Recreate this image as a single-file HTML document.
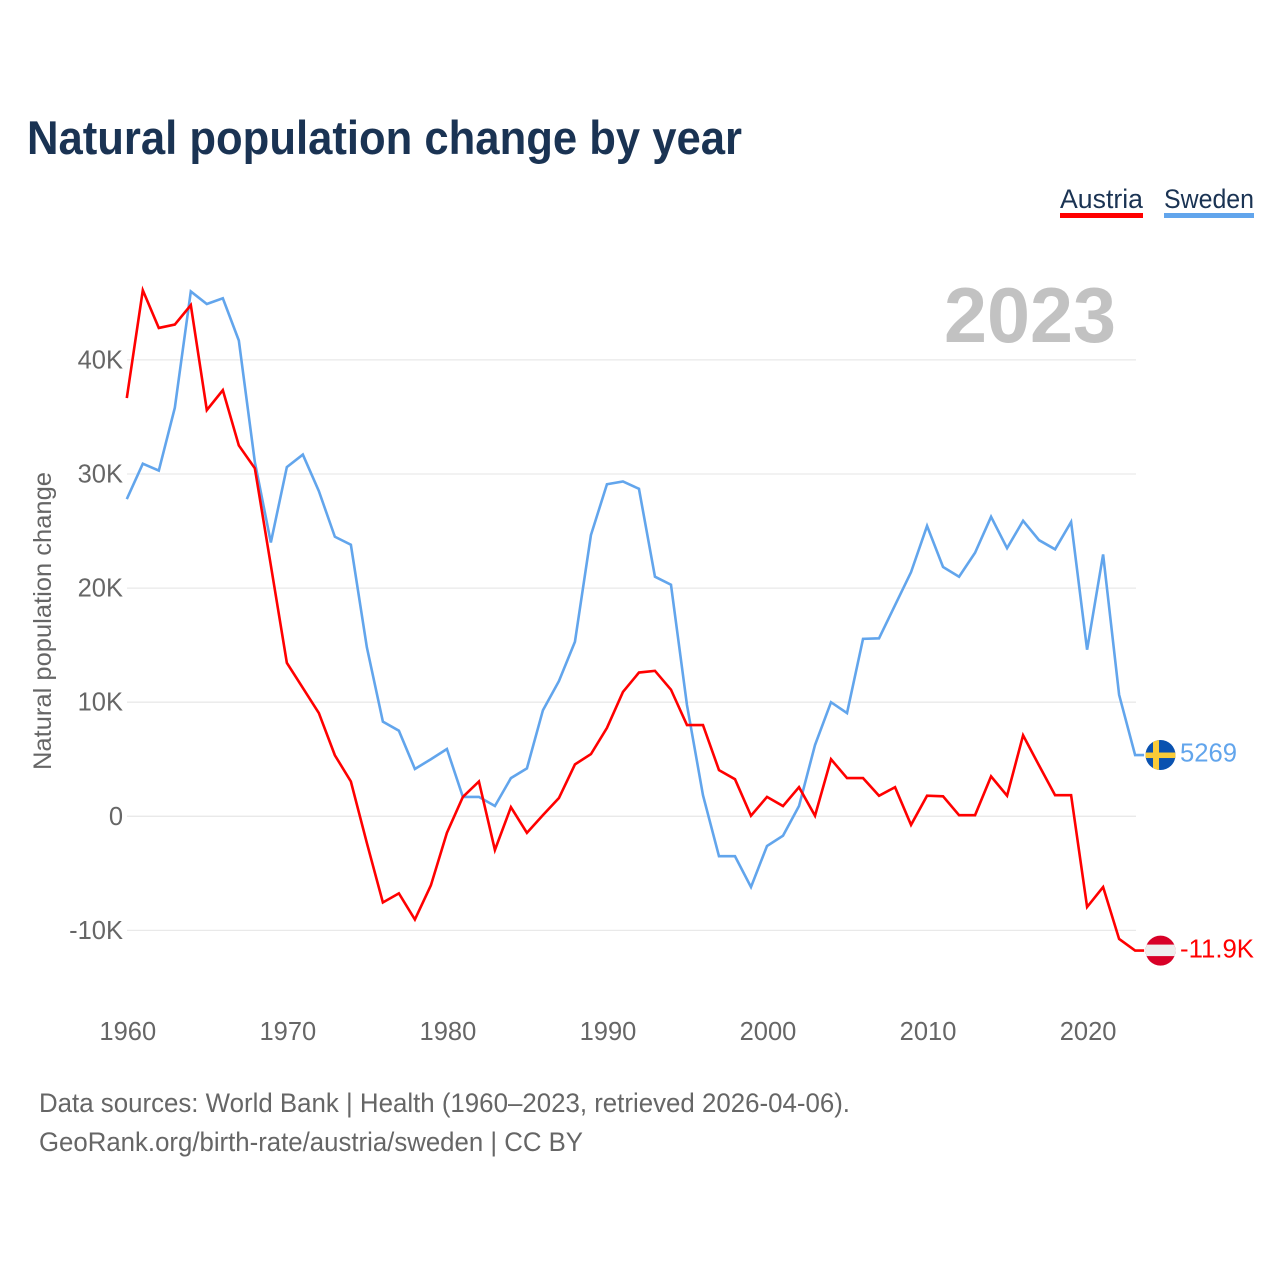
<!DOCTYPE html>
<html lang="en">
<head>
<meta charset="utf-8">
<title>Natural population change by year</title>
<style>
html,body{margin:0;padding:0;background:#fff;}
svg{display:block;font-family:"Liberation Sans",sans-serif;}
</style>
</head>
<body>
<svg id="chart" width="1280" height="1280" viewBox="0 0 1280 1280" xmlns="http://www.w3.org/2000/svg">
  <rect x="0" y="0" width="1280" height="1280" fill="#ffffff"/>
  <text x="27" y="154" font-size="47.5" font-weight="700" fill="#1a3353" textLength="715" lengthAdjust="spacingAndGlyphs">Natural population change by year</text>

  <g>
    <text x="1060" y="208" font-size="27" fill="#1a3353" textLength="83" lengthAdjust="spacingAndGlyphs">Austria</text>
    <rect x="1060" y="213" width="83" height="5" fill="#ff0000"/>
  </g>
  <g>
    <text x="1164" y="208" font-size="27" fill="#1a3353" textLength="90" lengthAdjust="spacingAndGlyphs">Sweden</text>
    <rect x="1164" y="213" width="90" height="5" fill="#62a5ec"/>
  </g>

  <text x="944" y="342" font-size="78" font-weight="700" fill="#c2c2c2" textLength="172" lengthAdjust="spacingAndGlyphs">2023</text>
  <text transform="translate(51,770) rotate(-90)" x="0" y="0" font-size="25" fill="#666666" textLength="298" lengthAdjust="spacingAndGlyphs">Natural population change</text>

  <g id="grid"></g>
  <g id="yticks"></g>
  <g id="xticks"></g>
  <g id="lines"></g>

  <defs>
    <clipPath id="clip-se"><circle id="clip-se-c" cx="1160.5" cy="755.5" r="15"/></clipPath>
    <clipPath id="clip-at"><circle id="clip-at-c" cx="1160.5" cy="951.5" r="15"/></clipPath>
  </defs>
  <g id="flag-se">
    <g clip-path="url(#clip-se)">
      <rect x="1145" y="740" width="31" height="31" fill="#0a52b0"/>
      <rect x="1153" y="740" width="6" height="31" fill="#f9cb38"/>
      <rect x="1145" y="753" width="31" height="5.5" fill="#f9cb38"/>
    </g>
  </g>
  <g id="flag-at">
    <g clip-path="url(#clip-at)">
      <rect x="1145" y="936" width="31" height="31" fill="#d80027"/>
      <rect x="1145" y="945.5" width="31" height="11.5" fill="#eeeeee"/>
    </g>
  </g>
  <text id="label-se" x="1180" y="762" font-size="25.5" fill="#62a5ec" textLength="57" lengthAdjust="spacingAndGlyphs"></text>
  <text id="label-at" x="1180" y="958" font-size="25.5" fill="#ff0000" textLength="74" lengthAdjust="spacingAndGlyphs"></text>

  <text x="39" y="1112" font-size="27" fill="#666666" textLength="811" lengthAdjust="spacingAndGlyphs">Data sources: World Bank | Health (1960–2023, retrieved 2026-04-06).</text>
  <text x="39" y="1151" font-size="27" fill="#666666" textLength="544" lengthAdjust="spacingAndGlyphs">GeoRank.org/birth-rate/austria/sweden | CC BY</text>
</svg>
<script>
const startYear = 1960;
const austriaValues = [36.66,46.1,42.8,43.1,44.8,35.6,37.35,32.5,30.5,22.0,13.45,11.25,9.05,5.35,3.05,-2.35,-7.55,-6.75,-9.05,-6.05,-1.45,1.7,3.05,-2.95,0.8,-1.45,0.1,1.6,4.55,5.45,7.75,10.9,12.6,12.75,11.1,8.0,8.0,4.05,3.25,0.05,1.7,0.9,2.55,0.05,5.0,3.35,3.35,1.8,2.55,-0.75,1.8,1.75,0.1,0.1,3.5,1.8,7.1,4.45,1.85,1.85,-7.95,-6.2,-10.75,-11.77];
const swedenValues = [27.8,30.9,30.3,35.8,46.0,44.9,45.4,41.7,31.05,24.0,30.6,31.7,28.5,24.5,23.8,14.8,8.3,7.5,4.15,5.0,5.9,1.7,1.7,0.9,3.35,4.2,9.3,11.85,15.3,24.65,29.1,29.35,28.7,21.0,20.3,9.75,1.85,-3.5,-3.5,-6.2,-2.6,-1.7,0.9,6.25,10.0,9.05,15.55,15.6,18.5,21.4,25.45,21.85,21.0,23.1,26.25,23.5,25.9,24.2,23.4,25.8,14.6,22.95,10.65,5.37];
const yTickValues = [-10,0,10,20,30,40];
const yTickLabels = ["-10K","0","10K","20K","30K","40K"];
const xTickYears = [1960,1970,1980,1990,2000,2010,2020];
const endLabels = {sweden:"5269", austria:"-11.9K"};

const NS = "http://www.w3.org/2000/svg";
function xScale(year){ return 126.8 + (year - 1960) * 16.005; }
function yScale(v){ return 816.3 - v * 11.41; }
function make(tag, parent, attrs){
  const el = document.createElementNS(NS, tag);
  for (const k in attrs) el.setAttribute(k, attrs[k]);
  parent.appendChild(el);
  return el;
}

const grid = document.getElementById('grid');
const yticks = document.getElementById('yticks');
yTickValues.forEach(function(v, i){
  const line = make('line', grid, {x1:127, x2:1136, y1:yScale(v), y2:yScale(v), stroke:'#e9e9e9', 'stroke-width':1.3});
  
  
  const t = make('text', yticks, {x:123, y:yScale(v)+8.5, 'text-anchor':'end', 'font-size':25.5, fill:'#666666'});
  t.textContent = yTickLabels[i];
  
  
});

const xticks = document.getElementById('xticks');
xTickYears.forEach(function(y){
  const t = make('text', xticks, {x:xScale(y)+1, y:1040, 'text-anchor':'middle', 'font-size':25.5, fill:'#666666'});
  t.textContent = String(y);
  
  
});

function pathFor(values){
  return values.map(function(v, i){
    return (i ? 'L' : 'M') + xScale(startYear + i).toFixed(2) + ' ' + yScale(v).toFixed(2);
  }).join(' ');
}
const lines = document.getElementById('lines');
const swedenLast = swedenValues[swedenValues.length - 1];
const austriaLast = austriaValues[austriaValues.length - 1];
const swedenLine = make('path', lines, {d:pathFor(swedenValues) + ' h9', fill:'none', stroke:'#62a5ec', 'stroke-width':2.6, 'stroke-linejoin':'miter'});


const austriaLine = make('path', lines, {d:pathFor(austriaValues) + ' h9', fill:'none', stroke:'#ff0000', 'stroke-width':2.6, 'stroke-linejoin':'miter'});



function placeEnd(flagId, labelId, value, refCy, text){
  const cy = yScale(value);
  const dy = cy - refCy;
  document.getElementById(flagId).setAttribute('transform', 'translate(0,' + dy.toFixed(2) + ')');
  const label = document.getElementById(labelId);
  label.setAttribute('y', (cy + 6.7).toFixed(2));
  label.textContent = text;
}
placeEnd('flag-se', 'label-se', swedenLast, 755.5, endLabels.sweden);
placeEnd('flag-at', 'label-at', austriaLast, 951.5, endLabels.austria);
</script>
</body>
</html>
